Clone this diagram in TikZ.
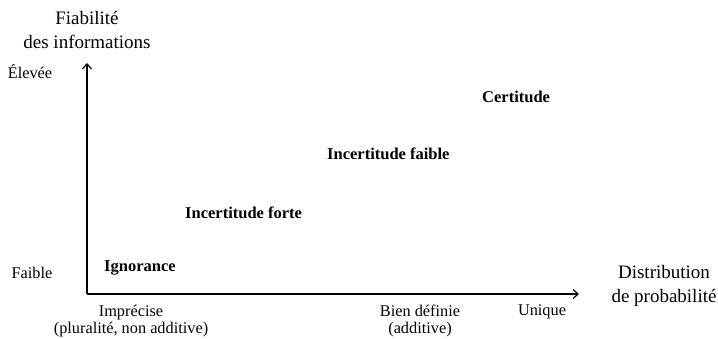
\documentclass[tikz,border=0pt]{standalone}
\usepackage{fontspec}
\setmainfont{Liberation Serif}
\usetikzlibrary{arrows.meta}
\begin{document}
\begin{tikzpicture}[x=1pt,y=-1pt,
  lbl/.style={inner sep=0pt, align=center, font=\fontsize{16.3}{17.5}\selectfont},
  big/.style={inner sep=0pt, align=center, font=\fontsize{19}{23.5}\selectfont},
  state/.style={inner sep=0pt, font=\fontsize{16.5}{19}\selectfont\bfseries},
  axis/.style={line width=1.2pt, -{Straight Barb[length=5pt,width=9pt,line width=1.2pt]}}]
\useasboundingbox (0,0) rectangle (718,338);
\coordinate (O) at (87,294);
\coordinate (Y) at (87,63);
\coordinate (X) at (579,294);
\draw[axis] (O) -- (Y);
\draw[axis] (O) -- (X);
\node[big] (yt) at (87,30) {Fiabilité\\des informations};
\node[big] (xt) at (664,286) {Distribution\\de probabilité};
\node[lbl] (hi) at (30,72) {Élevée};
\node[lbl] (lo) at (32,273) {Faible};
\node[lbl] (imp) at (131,321) {Imprécise\\(pluralité, non additive)};
\node[lbl] (bd) at (420,321) {Bien définie\\(additive)};
\node[lbl] (un) at (542,312) {Unique};
\node[state, anchor=west] (ig) at (104,268) {Ignorance};
\node[state, anchor=west] (ifo) at (185,213) {Incertitude forte};
\node[state, anchor=west] (ifa) at (327,154) {Incertitude faible};
\node[state, anchor=west] (ce) at (482,97) {Certitude};
\end{tikzpicture}
\end{document}
